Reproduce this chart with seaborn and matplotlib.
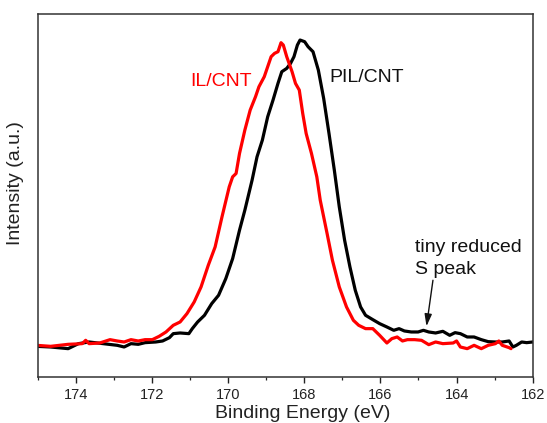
import matplotlib
matplotlib.use("Agg")
import matplotlib.pyplot as plt
import seaborn as sns
import pandas as pd
from matplotlib.ticker import MultipleLocator

# ---- data (binding energy in eV, intensity in arbitrary units) ----
pil_x = [175.03, 174.66, 174.20, 173.93, 173.65, 173.28, 172.91, 172.73, 172.55, 172.36,
         172.18, 171.90, 171.72, 171.54, 171.44, 171.26, 171.03, 170.94, 170.80, 170.62,
         170.43, 170.25, 170.06, 169.88, 169.70, 169.56, 169.37, 169.24, 169.10, 168.96,
         168.82, 168.69, 168.59, 168.46, 168.36, 168.27, 168.18, 168.11, 167.99, 167.90,
         167.77, 167.63, 167.49, 167.35, 167.21, 167.08, 166.94, 166.80, 166.66, 166.52,
         166.39, 166.20, 166.02, 165.83, 165.65, 165.51, 165.37, 165.19, 165.01, 164.87,
         164.73, 164.55, 164.36, 164.18, 164.04, 163.90, 163.72, 163.54, 163.35, 163.17,
         162.98, 162.80, 162.62, 162.52, 162.43, 162.29, 162.16, 162.00]
pil_y = [9.2, 9.0, 8.5, 10.0, 10.5, 10.0, 9.5, 9.0, 10.0, 9.8,
         10.3, 10.5, 10.8, 11.8, 13.0, 13.2, 13.0, 14.5, 16.5, 18.5,
         22.0, 24.5, 29.5, 35.5, 44.0, 50.0, 59.0, 66.0, 71.0, 78.0,
         83.0, 88.0, 91.5, 92.5, 94.0, 96.0, 99.5, 101.0, 100.5, 99.0,
         97.5, 92.0, 83.5, 73.0, 62.0, 51.0, 41.0, 33.0, 26.0, 21.0,
         18.5, 17.2, 16.0, 15.0, 14.0, 14.5, 13.8, 13.5, 13.5, 14.0,
         13.5, 13.2, 13.7, 12.5, 13.3, 13.0, 12.0, 12.0, 11.2, 10.6,
         10.5, 10.5, 10.8, 9.0, 9.5, 10.5, 10.3, 10.5]

il_x = [175.03, 174.66, 174.20, 173.83, 173.74, 173.65, 173.37, 173.10, 172.91, 172.73,
        172.55, 172.36, 172.18, 171.99, 171.81, 171.63, 171.44, 171.26, 171.08, 170.89,
        170.71, 170.52, 170.34, 170.16, 169.97, 169.88, 169.79, 169.70, 169.56, 169.42,
        169.28, 169.19, 169.05, 168.96, 168.87, 168.78, 168.69, 168.61, 168.55, 168.46,
        168.32, 168.23, 168.13, 168.04, 167.95, 167.81, 167.67, 167.58, 167.40, 167.26,
        167.08, 166.89, 166.71, 166.57, 166.39, 166.20, 166.02, 165.83, 165.70, 165.56,
        165.42, 165.29, 165.10, 164.92, 164.73, 164.55, 164.36, 164.09, 164.00, 163.90,
        163.72, 163.54, 163.35, 163.17, 162.98, 162.89, 162.80, 162.62, 162.57]
il_y = [9.5, 9.2, 9.8, 10.0, 11.0, 10.0, 10.2, 11.2, 10.8, 10.5,
        11.2, 10.8, 11.2, 11.2, 12.2, 13.5, 15.5, 16.5, 19.0, 22.5,
        27.0, 33.5, 39.0, 48.0, 57.0, 60.0, 61.0, 67.0, 74.0, 80.0,
        84.0, 87.0, 90.0, 93.0, 96.0, 97.0, 97.5, 100.2, 99.5, 96.0,
        91.5, 88.0, 86.0, 79.0, 73.0, 67.0, 60.0, 53.0, 43.0, 35.0,
        27.0, 21.0, 17.0, 15.5, 14.5, 14.5, 12.5, 10.2, 11.5, 12.0,
        10.8, 11.2, 11.2, 11.0, 9.7, 10.5, 10.0, 10.2, 10.8, 9.0,
        8.5, 9.5, 8.5, 9.5, 10.0, 10.8, 9.5, 8.8, 8.5]

series_names = ["PIL/CNT", "IL/CNT"]
series_colors = {"PIL/CNT": "#000000", "IL/CNT": "#ff0000"}
x_ticks = [174, 172, 170, 168, 166, 164, 162]

df = pd.concat([
    pd.DataFrame({"Binding Energy (eV)": pil_x, "Intensity": pil_y, "sample": "PIL/CNT"}),
    pd.DataFrame({"Binding Energy (eV)": il_x, "Intensity": il_y, "sample": "IL/CNT"}),
], ignore_index=True)

# ---- style ----
sns.set_theme(style="ticks")
plt.rcParams["font.family"] = ["Liberation Sans", "DejaVu Sans"]

fig = plt.figure(figsize=(5.47, 4.23), dpi=100)
ax = fig.add_axes([0.0689, 0.1087, 0.905, 0.8582])

sns.lineplot(data=df, x="Binding Energy (eV)", y="Intensity", hue="sample",
             hue_order=series_names, palette=series_colors, estimator=None,
             sort=False, linewidth=2.3, legend=False, ax=ax)

ax.set_xlim(175, 162)
ax.set_ylim(0, 108.8)
ax.set_xticks(x_ticks)
ax.set_xticklabels([str(t) for t in x_ticks])
ax.xaxis.set_minor_locator(MultipleLocator(1))
ax.set_yticks([])
ax.tick_params(axis="x", which="major", direction="out", length=4.5, width=1.0,
               labelsize=10.5, pad=3.5, colors="#222222")
ax.tick_params(axis="x", which="minor", direction="out", length=2.5, width=0.9)
for sp in ax.spines.values():
    sp.set_linewidth(1.1)
    sp.set_color("#333333")

ax.set_xlabel("Binding Energy (eV)", fontsize=14, color="#222222")
ax.set_ylabel("Intensity (a.u.)", fontsize=14, color="#222222")
ax.xaxis.set_label_coords(0.536, -0.077)
ax.yaxis.set_label_coords(-0.027, 0.533)

ax.text(171.0, 87.3, "IL/CNT", color="#ff0000", fontsize=14, ha="left", va="baseline")
ax.text(167.33, 88.4, "PIL/CNT", color="#111111", fontsize=14, ha="left", va="baseline")
ax.text(165.10, 31.0, "tiny reduced\nS peak", color="#111111", fontsize=14,
        ha="left", va="baseline", linespacing=1.32)
ax.annotate("", xy=(164.79, 15.2), xytext=(164.62, 29.0),
            arrowprops=dict(arrowstyle="-|>,head_length=0.6,head_width=0.18",
                            color="#111111", lw=1.0, shrinkA=0, shrinkB=0))

fig.savefig("out.png", dpi=100)
